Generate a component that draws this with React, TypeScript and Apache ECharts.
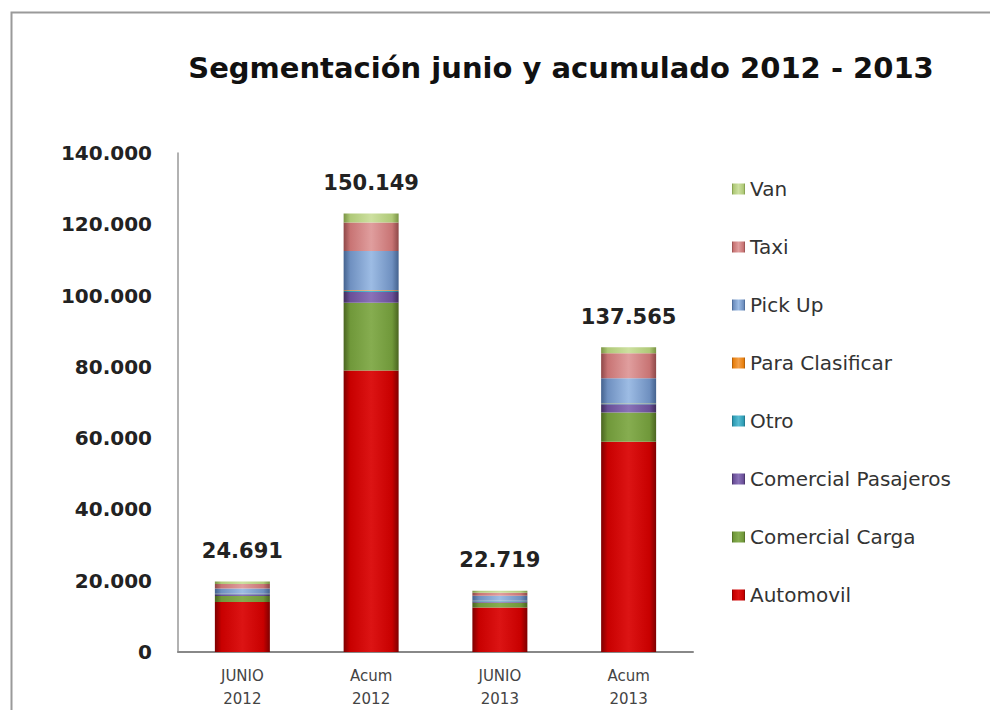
import React, { useEffect, useRef } from "react";
import * as echarts from "echarts";

const categories = ["JUNIO\n2012", "Acum\n2012", "JUNIO\n2013", "Acum\n2013"];
const totalLabels = ["24.691", "150.149", "22.719", "137.565"];

const automovil = [14000, 79000, 12500, 59000];
const comercialCarga = [1700, 19000, 1300, 8200];
const comercialPasajeros = [500, 3000, 400, 2300];
const otro = [100, 300, 100, 200];
const paraClasificar = [50, 200, 50, 100];
const pickUp = [1500, 11000, 1400, 7000];
const taxi = [1200, 8000, 900, 7000];
const van = [700, 2500, 500, 1700];

const seriesNames = [
  "Automovil",
  "Comercial Carga",
  "Comercial Pasajeros",
  "Otro",
  "Para Clasificar",
  "Pick Up",
  "Taxi",
  "Van",
];
const seriesData = [automovil, comercialCarga, comercialPasajeros, otro, paraClasificar, pickUp, taxi, van];
const seriesColors = [
  ["#7e0000", "#c80000", "#dc1414"],
  ["#4a6420", "#70983a", "#86ad50"],
  ["#3f2c5c", "#6a4f98", "#8a72b8"],
  ["#1f6d80", "#2f9db5", "#58bcd2"],
  ["#a45508", "#e8800e", "#f3a04a"],
  ["#44628e", "#6f90c0", "#9dbce4"],
  ["#8e4848", "#c87474", "#e09e9e"],
  ["#7a9444", "#afc978", "#cde0a0"],
];

const yTicks = { min: 0, max: 140000, interval: 20000 };

export default function App() {
  const ref = useRef<HTMLDivElement>(null);
  useEffect(() => {
    document.body.style.margin = "0";
    if (!ref.current) return;
    const chart = echarts.init(ref.current, null, { renderer: "svg" });
    const series = seriesNames.map((name, i) => {
      const [dark, base, light] = seriesColors[i];
      const s: any = {
        name,
        type: "bar",
        stack: "total",
        barWidth: 55,
        data: seriesData[i],
        itemStyle: {
          color: new echarts.graphic.LinearGradient(0, 0, 1, 0, [
            { offset: 0, color: dark },
            { offset: 0.12, color: base },
            { offset: 0.5, color: light },
            { offset: 0.88, color: base },
            { offset: 1, color: dark },
          ]),
        },
      };
      if (i === seriesNames.length - 1) {
        s.label = {
          show: true,
          position: "top",
          distance: 20,
          formatter: (p: any) => totalLabels[p.dataIndex],
          fontFamily: "DejaVu Sans",
          fontWeight: "bold",
          fontSize: 21,
          color: "#222",
        };
      }
      return s;
    });
    chart.setOption({
      animation: false,
      backgroundColor: "#fff",
      title: {
        text: "Segmentación junio y acumulado 2012 - 2013",
        left: 556,
        textAlign: "center",
        top: 48,
        textStyle: {
          fontFamily: "DejaVu Sans",
          fontWeight: "bold",
          fontSize: 29,
          color: "#111",
        },
      },
      graphic: [
        {
          type: "rect",
          shape: { x: 11.5, y: 12.5, width: 1000, height: 720 },
          style: { fill: "none", stroke: "#9a9a9a", lineWidth: 2 },
          silent: true,
        },
      ],
      legend: {
        orient: "vertical",
        left: 727,
        top: 173,
        data: [...seriesNames].reverse(),
        itemWidth: 13,
        itemHeight: 11,
        itemGap: 36,
        icon: "rect",
        textStyle: {
          fontFamily: "DejaVu Sans",
          fontSize: 20,
          color: "#333",
          lineHeight: 22,
        },
      },
      grid: { left: 178, top: 153, width: 515, height: 500 },
      xAxis: {
        type: "category",
        data: categories,
        axisLine: { lineStyle: { color: "#888", width: 2 } },
        axisTick: { show: false },
        axisLabel: {
          fontFamily: "DejaVu Sans",
          fontSize: 15,
          lineHeight: 23,
          color: "#444",
          margin: 12,
        },
      },
      yAxis: {
        type: "value",
        min: yTicks.min,
        max: yTicks.max,
        interval: yTicks.interval,
        splitLine: { show: false },
        axisLine: { show: true, lineStyle: { color: "#999", width: 1.5 } },
        axisTick: { show: false },
        axisLabel: {
          fontFamily: "DejaVu Sans",
          fontWeight: "bold",
          fontSize: 20,
          color: "#222",
          margin: 26,
          formatter: (v: number) => v.toString().replace(/\B(?=(\d{3})+(?!\d))/g, "."),
        },
      },
      series,
    });
    return () => chart.dispose();
  }, []);
  return <div ref={ref} style={{ width: 990, height: 710 }} />;
}
